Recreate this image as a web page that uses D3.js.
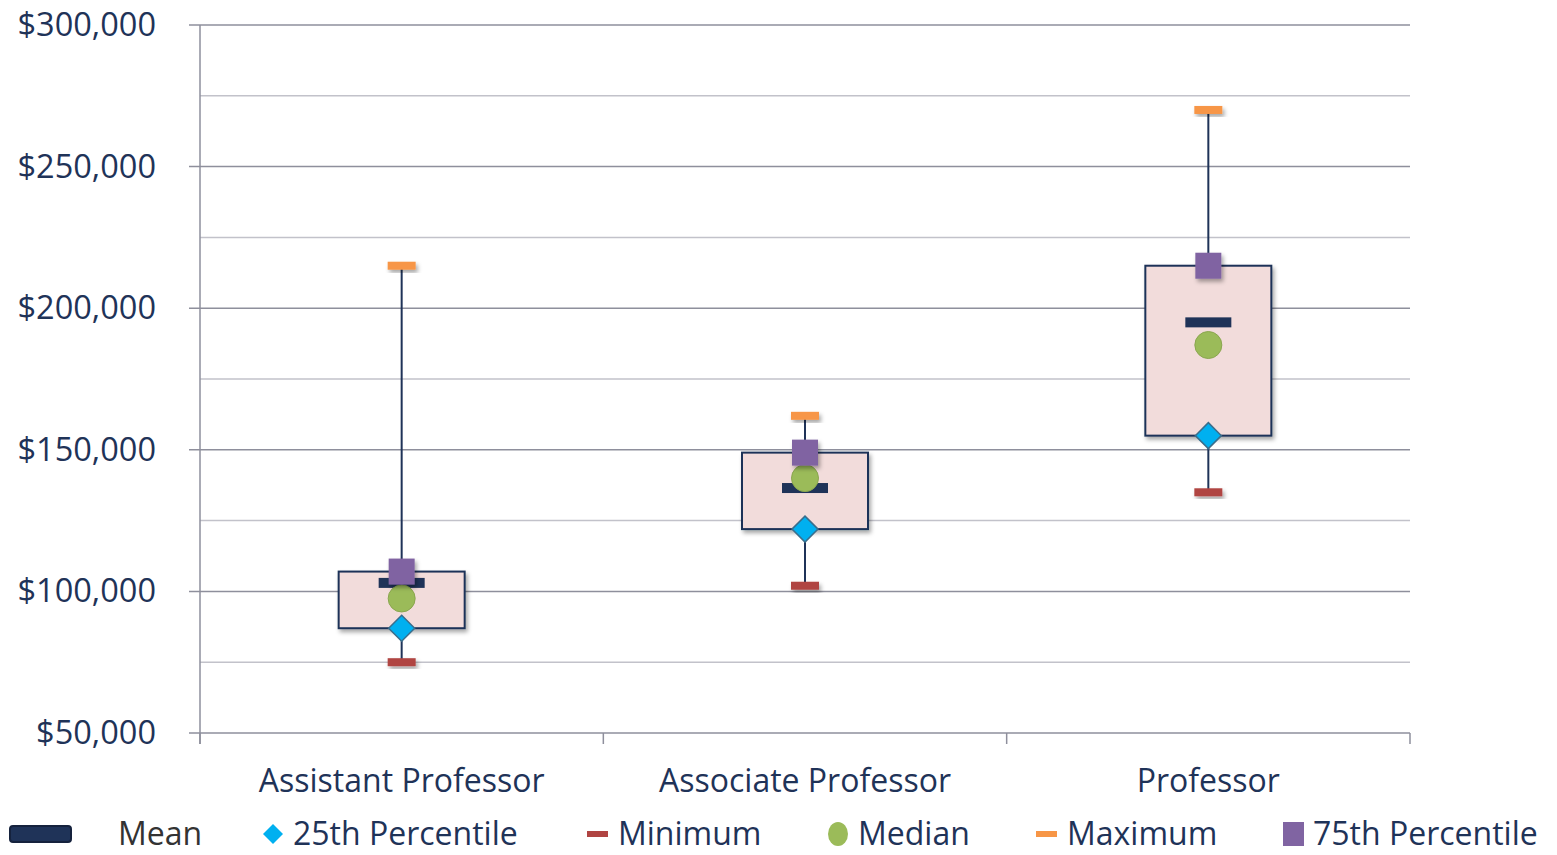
<!DOCTYPE html>
<html>
<head>
<meta charset="utf-8">
<script src="https://cdn.jsdelivr.net/npm/d3@7"></script>
<style>
body { margin: 0; background: #fff; }
text { font-family: "Open Sans", "Liberation Sans", sans-serif; fill: #1f3358; }
</style>
</head>
<body>
<svg id="chart" width="1557" height="855"></svg>
<script>
// small stand-in for d3-selection-multi
d3.selection.prototype.attrs = function(o) {
	for (const k in o) this.attr(k, o[k]);
	return this;
};

let width = 1557;
let height = 855;
let margins = {top: 25, bottom: 122, left: 200, right: 147};

// values
const categories = ["Assistant Professor", "Associate Professor", "Professor"];
const minimum = [75000, 102000, 135000];
const p25 = [87000, 122000, 155000];
const median = [97500, 140000, 187000];
const mean = [103000, 136500, 195000];
const p75 = [107000, 149000, 215000];
const maximum = [215000, 162000, 270000];
const yTicks = [50000, 100000, 150000, 200000, 250000, 300000];
const yMinor = [75000, 125000, 175000, 225000, 275000];

const colors = {
	mean: "#1f3358",
	p25: "#00b0f0",
	min: "#b04442",
	median: "#9bbb59",
	max: "#f79646",
	p75: "#8064a2",
	box: "#f2dcdb"
};

const svg = d3.select("#chart");

const x = d3.scaleBand()
	.domain(categories)
	.range([margins.left, width - margins.right]);
const y = d3.scaleLinear()
	.domain([50000, 300000])
	.range([height - margins.bottom, margins.top]);

const defs = svg.append("defs");
const f = defs.append("filter").attr("id", "shadow")
	.attr("x", "-30%").attr("y", "-30%").attr("width", "160%").attr("height", "160%");
f.append("feDropShadow").attrs({dx: 2, dy: 3, stdDeviation: 2, "flood-color": "#000", "flood-opacity": 0.35});

const x0 = margins.left, x1 = width - margins.right;

// gridlines
svg.append("g").selectAll("line")
	.data(yMinor).enter().append("line")
	.attrs({x1: x0, x2: x1, y1: d => y(d), y2: d => y(d), stroke: "#c2c2ca", "stroke-width": 1.5});
svg.append("g").selectAll("line")
	.data(yTicks).enter().append("line")
	.attrs({x1: x0 - 11, x2: x1, y1: d => y(d), y2: d => y(d), stroke: "#8e8f9c", "stroke-width": 1.5});

// axes
svg.append("line").attrs({x1: x0, x2: x0, y1: y(300000), y2: y(50000) + 11, stroke: "#8e8f9c", "stroke-width": 1.5});
svg.append("g").selectAll("line")
	.data(categories.concat(["end"])).enter().append("line")
	.attrs({
		x1: (d, i) => x0 + i * x.bandwidth(), x2: (d, i) => x0 + i * x.bandwidth(),
		y1: y(50000), y2: y(50000) + 11, stroke: "#8e8f9c", "stroke-width": 1.5
	});

svg.append("g").selectAll("text")
	.data(yTicks).enter().append("text")
	.attrs({x: 156, y: d => y(d) + 11, "text-anchor": "end", "font-size": 32.5})
	.text(d => d3.format("$,")(d));

svg.append("g").selectAll("text")
	.data(categories).enter().append("text")
	.attrs({x: d => x(d) + x.bandwidth() / 2, y: 792, "text-anchor": "middle", "font-size": 32})
	.text(d => d);

const cx = i => x(categories[i]) + x.bandwidth() / 2;
const idx = categories.map((d, i) => i);

const g = svg.append("g");

// whiskers
g.selectAll(".whisker").data(idx).enter().append("line")
	.attrs({x1: cx, x2: cx, y1: i => y(maximum[i]), y2: i => y(minimum[i]), stroke: "#1f3358", "stroke-width": 2});

// boxes
g.selectAll(".box").data(idx).enter().append("rect")
	.attrs({
		x: i => cx(i) - 63, width: 126,
		y: i => y(p75[i]), height: i => y(p25[i]) - y(p75[i]),
		fill: colors.box, stroke: "#1f3358", "stroke-width": 2, filter: "url(#shadow)"
	});

// max / min caps
g.selectAll(".max").data(idx).enter().append("rect")
	.attrs({x: i => cx(i) - 14, y: i => y(maximum[i]) - 4, width: 28, height: 8, fill: colors.max, filter: "url(#shadow)"});
g.selectAll(".min").data(idx).enter().append("rect")
	.attrs({x: i => cx(i) - 14, y: i => y(minimum[i]) - 4, width: 28, height: 8, fill: colors.min, filter: "url(#shadow)"});

// mean bars
g.selectAll(".mean").data(idx).enter().append("rect")
	.attrs({x: i => cx(i) - 23, y: i => y(mean[i]) - 5, width: 46, height: 10, fill: colors.mean});

// median circles
g.selectAll(".median").data(idx).enter().append("circle")
	.attrs({cx: cx, cy: i => y(median[i]), r: 13.5, fill: colors.median, stroke: "#8aa64f", "stroke-width": 1});

// 75th squares
g.selectAll(".p75").data(idx).enter().append("rect")
	.attrs({x: i => cx(i) - 13, y: i => y(p75[i]) - 13, width: 26, height: 26, fill: colors.p75, filter: "url(#shadow)"});

// 25th diamonds
g.selectAll(".p25").data(idx).enter().append("path")
	.attrs({
		d: i => `M${cx(i)},${y(p25[i]) - 13}L${cx(i) + 13},${y(p25[i])}L${cx(i)},${y(p25[i]) + 13}L${cx(i) - 13},${y(p25[i])}Z`,
		fill: colors.p25, stroke: "#3a6e8c", "stroke-width": 1.5
	});

// legend
const ly = 834;
const ty = 845;
const fs = 32;
const leg = svg.append("g");
leg.append("rect").attrs({x: 10, y: ly - 8, width: 61, height: 16, rx: 3, fill: "#1f3358", stroke: "#15223d", "stroke-width": 2});
leg.append("text").attrs({x: 118, y: ty, "font-size": fs}).style("fill", "#333").text("Mean");
leg.append("path").attrs({d: `M273,${ly - 10}L283,${ly}L273,${ly + 10}L263,${ly}Z`, fill: colors.p25});
leg.append("text").attrs({x: 293, y: ty, "font-size": fs}).text("25th Percentile");
leg.append("rect").attrs({x: 587, y: ly - 3, width: 21, height: 6, fill: colors.min});
leg.append("text").attrs({x: 618, y: ty, "font-size": fs}).text("Minimum");
leg.append("ellipse").attrs({cx: 838, cy: ly, rx: 10, ry: 12, fill: colors.median});
leg.append("text").attrs({x: 858, y: ty, "font-size": fs}).text("Median");
leg.append("rect").attrs({x: 1036, y: ly - 3, width: 21, height: 6, fill: colors.max});
leg.append("text").attrs({x: 1067, y: ty, "font-size": fs}).text("Maximum");
leg.append("rect").attrs({x: 1283, y: ly - 12, width: 21, height: 24, fill: colors.p75});
leg.append("text").attrs({x: 1313, y: ty, "font-size": fs}).text("75th Percentile");
</script>
</body>
</html>
